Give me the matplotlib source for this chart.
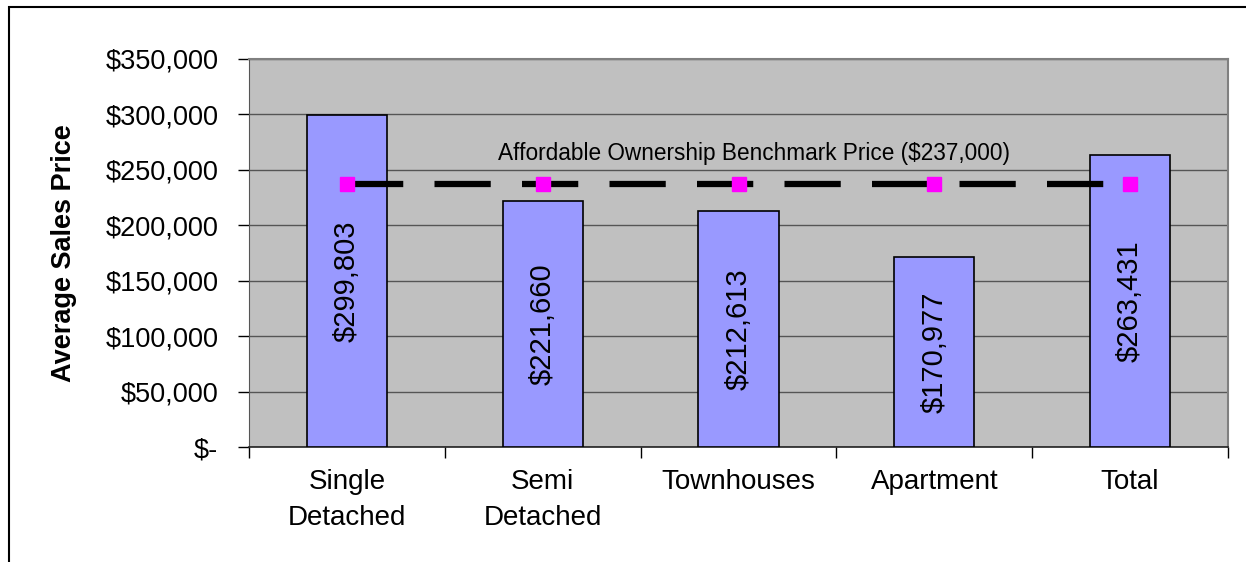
import matplotlib
matplotlib.use("Agg")
import matplotlib.pyplot as plt
from matplotlib.patches import Rectangle
from matplotlib.ticker import FuncFormatter, MultipleLocator

plt.rcParams['font.family'] = ['Liberation Sans', 'DejaVu Sans']

categories = ["Single\nDetached", "Semi\nDetached", "Townhouses", "Apartment", "Total"]
avg_prices = [299803, 221660, 212613, 170977, 263431]
benchmark = [237000, 237000, 237000, 237000, 237000]
benchmark_label = "Affordable Ownership Benchmark Price ($237,000)"
y_label = "Average Sales Price"

W, H = 1246, 562
fig = plt.figure(figsize=(W / 100, H / 100), dpi=100)
fig.patch.set_facecolor("white")

# outer chart border
fig.patches.append(Rectangle((9 / W, -0.05), 1.2, 1 - 7 / H + 0.05, transform=fig.transFigure,
                             fill=False, edgecolor="black", linewidth=1.5))

left, right, top, bottom = 249, 1228, 59, 447
ax = fig.add_axes([left / W, 1 - bottom / H, (right - left) / W, (bottom - top) / H])
ax.set_facecolor("#C0C0C0")

x = list(range(len(categories)))
ax.bar(x, avg_prices, width=0.41, color="#9999FF", edgecolor="black", linewidth=1.2, zorder=3)
ax.plot(x, benchmark, color="black", linewidth=4.5, dashes=(9, 5), zorder=4)
ax.plot(x, benchmark, linestyle="none", marker="s", markersize=10, color="#FF00FF",
        markeredgecolor="#FF00FF", zorder=5)

for xi, v in zip(x, avg_prices):
    ax.text(xi, v / 2, f"${v:,}", rotation=90, ha="center", va="center", fontsize=21, zorder=6)

ax.text(2.08, 265000, benchmark_label, ha="center", va="center", fontsize=16.3, zorder=6)

ax.set_xlim(-0.5, len(categories) - 0.5)
ax.set_ylim(0, 350000)
ax.yaxis.set_major_locator(MultipleLocator(50000))
ax.yaxis.set_major_formatter(FuncFormatter(lambda v, p: "$-" if v == 0 else f"${v:,.0f}"))
ax.grid(axis="y", color="#555555", linewidth=1.0, zorder=1)
ax.set_axisbelow(True)

ax.set_xticks([i + 0.5 for i in range(-1, len(categories))], minor=False)
ax.set_xticklabels([])
ax.set_xticks(x, minor=True)
ax.set_xticklabels(categories, minor=True, fontsize=20, linespacing=1.5)
ax.tick_params(axis="x", which="major", length=8, width=1, color="black", direction="out")
ax.tick_params(axis="x", which="minor", length=0, pad=15.5)
ax.tick_params(axis="y", length=8, width=1, labelsize=19.5, pad=14, direction="out")

for s in ["top", "right"]:
    ax.spines[s].set_color("#808080")
    ax.spines[s].set_linewidth(1.5)
ax.spines["left"].set_color("#555555")
ax.spines["bottom"].set_color("#222222")
ax.spines["bottom"].set_linewidth(1.2)

ax.set_ylabel(y_label, fontsize=19.5, fontweight="bold")
ax.yaxis.set_label_coords((77 - left) / (right - left), 0.5)

fig.savefig("out.png", dpi=100)
